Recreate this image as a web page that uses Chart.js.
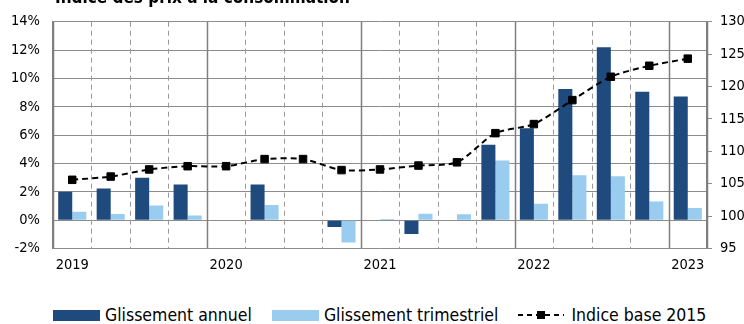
<!DOCTYPE html>
<html lang="fr">
<head>
<meta charset="utf-8">
<title>Indice des prix à la consommation</title>
<script src="https://cdn.jsdelivr.net/npm/chart.js@4.4.0/dist/chart.umd.min.js"></script>
<style>
  html, body { margin: 0; padding: 0; background: #fff; }
  #wrap { position: relative; width: 744px; height: 324px; overflow: hidden; }
  #box { position: absolute; left: 0; top: 0; width: 744px; height: 275px; }
  #legend {
    position: absolute; left: 53px; top: 305px; display: flex; align-items: center;
    font-family: "DejaVu Sans Condensed", "DejaVu Sans", sans-serif; font-size: 17.5px;
    color: #000; white-space: nowrap; line-height: 20px;
  }
  .item { display: flex; align-items: center; margin-right: 20px; }
  .swatch { width: 47px; height: 11px; margin-right: 5px; }
  .item svg { margin-right: 7px; }
</style>
</head>
<body>
<div id="wrap">
  <div id="box"><canvas id="cpiChart"></canvas></div>
  <div id="legend">
    <div class="item"><span class="swatch" style="background:#1F4A7D"></span>Glissement annuel</div>
    <div class="item"><span class="swatch" style="background:#99CCEE"></span>Glissement trimestriel</div>
    <div class="item">
      <svg width="46" height="12" viewBox="0 0 46 12">
        <line x1="0" y1="6" x2="46" y2="6" stroke="#000" stroke-width="2" stroke-dasharray="5 4"></line>
        <rect x="19" y="2" width="8" height="8" fill="#000"></rect>
      </svg>Indice base 2015
    </div>
  </div>
</div>

<script>
// Quarters from Q1 2019 to Q1 2023
const quarters = [
	"T1 2019", "T2 2019", "T3 2019", "T4 2019",
	"T1 2020", "T2 2020", "T3 2020", "T4 2020",
	"T1 2021", "T2 2021", "T3 2021", "T4 2021",
	"T1 2022", "T2 2022", "T3 2022", "T4 2022",
	"T1 2023",
];
const yearTicks = [
	"2019", "", "", "",
	"2020", "", "", "",
	"2021", "", "", "",
	"2022", "", "", "",
	"2023",
];

// Year-on-year change (%)
const annualChange = [2.0, 2.24, 3.0, 2.52, 0, 2.52, 0, -0.49, 0, -0.98, 0, 5.32, 6.48, 9.26, 12.19, 9.05, 8.72];
// Quarter-on-quarter change (%)
const quarterlyChange = [0.6, 0.44, 1.03, 0.32, 0, 1.06, 0, -1.58, 0.08, 0.46, 0.41, 4.2, 1.15, 3.17, 3.1, 1.31, 0.85];
// Index, base 2015
const indexBase2015 = [105.6, 106.1, 107.2, 107.7, 107.7, 108.8, 108.8, 107.1, 107.2, 107.8, 108.3, 112.8, 114.2, 117.9, 121.5, 123.2, 124.3];

const FONT = "'DejaVu Sans Condensed', 'DejaVu Sans', sans-serif";
const GRID = "#8c8c8c";

// Vertical separators: solid between years, dashed between quarters
const quarterLines = {
	id: "quarterLines",
	beforeDatasetsDraw(chart) {
		const { ctx, chartArea, scales } = chart;
		const x = scales.x;
		const n = quarters.length;
		ctx.save();
		for (let i = 0; i <= n; i++) {
			let px;
			if (i === 0) px = chartArea.left;
			else if (i === n) px = chartArea.right;
			else px = (x.getPixelForValue(i - 1) + x.getPixelForValue(i)) / 2;
			px = Math.round(px) + 0.5;
			ctx.beginPath();
			if (i % 4 === 0 || i === n) {
				ctx.setLineDash([]);
				ctx.strokeStyle = "#7f7f7f";
				ctx.lineWidth = 1.5;
			} else {
				ctx.setLineDash([5, 4]);
				ctx.strokeStyle = "#999";
				ctx.lineWidth = 1;
			}
			ctx.moveTo(px, chartArea.top);
			ctx.lineTo(px, chartArea.bottom);
			ctx.stroke();
		}
		ctx.restore();
	},
};

// Title, cut at the top of the picture
const cutTitle = {
	id: "cutTitle",
	afterDraw(chart) {
		const { ctx } = chart;
		ctx.save();
		ctx.font = "bold 17px " + FONT;
		ctx.fillStyle = "#000";
		ctx.textBaseline = "alphabetic";
		ctx.fillText("Indice des prix à la consommation", 55, 3);
		ctx.restore();
	},
};

new Chart(document.getElementById("cpiChart"), {
	data: {
		labels: quarters,
		datasets: [
			{
				type: "bar",
				label: "Glissement annuel",
				data: annualChange,
				backgroundColor: "#1F4A7D",
				categoryPercentage: 0.73,
				barPercentage: 1.0,
				yAxisID: "y",
				order: 1,
			},
			{
				type: "bar",
				label: "Glissement trimestriel",
				data: quarterlyChange,
				backgroundColor: "#99CCEE",
				categoryPercentage: 0.73,
				barPercentage: 1.0,
				yAxisID: "y",
				order: 1,
			},
			{
				type: "line",
				label: "Indice base 2015",
				data: indexBase2015,
				borderColor: "#000",
				borderWidth: 2,
				borderDash: [6, 4],
				tension: 0.25,
				pointStyle: "rect",
				pointRadius: 5.3,
				pointBackgroundColor: "#000",
				pointBorderColor: "#000",
				pointBorderWidth: 1,
				yAxisID: "y1",
				order: 0,
			},
		],
	},
	options: {
		responsive: true,
		maintainAspectRatio: false,
		animation: false,
		layout: { padding: { top: 19.5, left: 0, right: 0, bottom: 0 } },
		plugins: {
			legend: { display: false },
			tooltip: { enabled: false },
		},
		scales: {
			x: {
				grid: { display: false, drawTicks: false },
				border: { display: false },
				ticks: {
					autoSkip: false,
					maxRotation: 0,
					padding: 8,
					color: "#000",
					font: { family: FONT, size: 14.5 },
					callback: (v, i) => yearTicks[i],
				},
				afterFit: (s) => { s.height = 26.5; },
			},
			y: {
				position: "left",
				min: -2,
				max: 14,
				grid: { color: GRID, lineWidth: 1, drawTicks: false },
				border: { display: true, color: "#7f7f7f", width: 1.5 },
				ticks: {
					stepSize: 2,
					padding: 13,
					color: "#000",
					font: { family: FONT, size: 14.5 },
					callback: (v) => v + "%",
				},
				afterFit: (s) => { s.width = 53; },
			},
			y1: {
				position: "right",
				min: 95,
				max: 130,
				grid: { drawOnChartArea: false, drawTicks: true, tickLength: 5, color: GRID },
				border: { display: true, color: "#7f7f7f", width: 1.5 },
				ticks: {
					stepSize: 5,
					padding: 8,
					color: "#000",
					font: { family: FONT, size: 14.5 },
				},
				afterFit: (s) => { s.width = 37; },
			},
		},
	},
	plugins: [quarterLines, cutTitle],
});
</script>
</body>
</html>
